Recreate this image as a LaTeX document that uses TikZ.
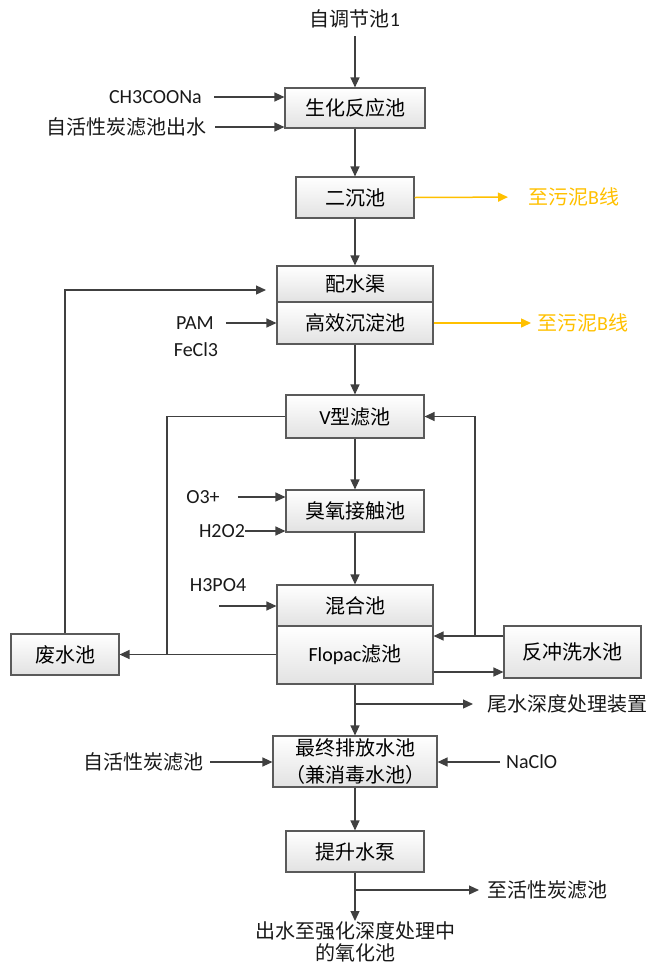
\documentclass[tikz,border=0pt]{standalone}
\usepackage{fontspec}
\setmainfont{Carlito}
\newfontfamily\cjk{Noto Sans CJK SC}
\usetikzlibrary{arrows.meta,shadows}
\definecolor{wwline}{HTML}{404040}
\definecolor{wwedge}{HTML}{5A5A5A}
\definecolor{wwfill}{HTML}{E2E2E2}
\definecolor{wwsludge}{HTML}{FFC000}
\newcommand{\zhfont}{\fontsize{20}{24}\selectfont}
\newcommand{\zh}[1]{{\cjk #1}}
\tikzset{
  unit/.style  ={draw=wwedge, line width=1.1pt, top color=white, bottom color=wwfill,
                 drop shadow={shadow xshift=1.2pt, shadow yshift=-1.2pt,
                              fill=black!20, opacity=.6},
                 inner sep=0pt, font=\zhfont, align=center,
                 minimum width=138, minimum height=42},
  wide/.style  ={unit, minimum width=156},
  tag/.style   ={font=\zhfont, inner sep=0pt, text=black!90, align=center},
  flow/.style  ={-{Triangle[length=10pt,width=9pt]}, draw=wwline, line width=1.2pt},
  pipe/.style  ={draw=wwline, line width=1.2pt},
  sludge/.style={flow, draw=wwsludge, line width=1.5pt},
}

\begin{document}
\begin{tikzpicture}[x=1pt,y=-1pt]
  \useasboundingbox (0,0) rectangle (651,970);

  % main line
  \node[tag] (src) at (355,19) {\zh{自调节池}1};
  \node[unit, minimum width=140, minimum height=40] (bio) at (355,108) {\zh{生化反应池}};
  \node[unit, minimum width=118, minimum height=41] (sec) at (355,197.5) {\zh{二沉池}};
  \node[wide, minimum height=36] (dist) at (355,284) {\zh{配水渠}};
  \node[wide, minimum height=42] (hsed) at (355,323) {\zh{高效沉淀池}};
  \node[unit, minimum height=43] (vfil) at (355,416.5) {V\zh{型滤池}};
  \node[unit] (ozone) at (355,511) {\zh{臭氧接触池}};
  \node[wide, minimum height=41] (mix) at (355,605.5) {\zh{混合池}};
  \node[wide, minimum height=58] (flopac) at (355,655) {Flopac\zh{滤池}};
  \node[unit, minimum width=164, minimum height=51, font=\fontsize{20}{27}\selectfont]
    (final) at (355,761.5) {\zh{最终排放水池}\\\zh{（兼消毒水池）}};
  \node[unit, minimum height=41] (pump) at (355,851.5) {\zh{提升水泵}};

  % side tanks
  \node[unit, minimum width=108, minimum height=41] (waste) at (65,654.5) {\zh{废水池}};
  \node[unit, minimum width=137, minimum height=52] (back) at (572.5,652) {\zh{反冲洗水池}};

  % dosing and outlets
  \node[tag, anchor=east] (ch3) at (202,97) {CH3COONa};
  \node[tag, anchor=east] (actw) at (207,127) {\zh{自活性炭滤池出水}};
  \node[tag, anchor=west, text=wwsludge] (sl1) at (528,197) {\zh{至污泥}B\zh{线}};
  \node[tag] (pam) at (195,323) {PAM};
  \node[tag] (fecl) at (196,350) {FeCl3};
  \node[tag, anchor=west, text=wwsludge] (sl2) at (537,323) {\zh{至污泥}B\zh{线}};
  \node[tag] (o3) at (203,497) {O3+};
  \node[tag] (h2o2) at (222,531) {H2O2};
  \node[tag] (h3po4) at (218,585) {H3PO4};
  \node[tag, anchor=west] (tail) at (487,704) {\zh{尾水深度处理装置}};
  \node[tag, anchor=east] (ac2) at (204,762) {\zh{自活性炭滤池}};
  \node[tag, anchor=west] (naclo) at (506,762) {NaClO};
  \node[tag, anchor=west] (tocarb) at (487,890) {\zh{至活性炭滤池}};
  \node[tag, font=\fontsize{20}{22}\selectfont, anchor=north] (out) at (355,921)
    {\zh{出水至强化深度处理中}\\\zh{的氧化池}};

  \coordinate (retin) at (266,290);
  \coordinate (h3in) at (219,606);
  \coordinate (wj) at (167,654.5);
  \coordinate (bj) at (475,636);
  \coordinate (tb) at (355,704);
  \coordinate (cb) at (355,890);

  \draw[flow, shorten <=8pt] (src) -- (bio);
  \draw[flow, shorten <=12pt] (ch3.east) -- (ch3.east -| bio.west);
  \draw[flow, shorten <=8pt] (actw.east) -- (actw.east -| bio.west);
  \draw[flow] (bio) -- (sec);
  \draw[sludge, shorten >=20pt] (sec.east) -- (sl1.west);
  \draw[flow] (sec) -- (dist);
  \draw[flow, shorten <=12pt] (pam.east) -- (pam.east -| hsed.west);
  \draw[sludge, shorten >=6pt] (hsed.east) -- (sl2.west);
  \draw[flow] (hsed) -- (vfil);
  \draw[flow] (vfil) -- (ozone);
  \draw[flow, shorten <=18pt] (o3.east) -- (o3.east -| ozone.west);
  \draw[flow] (h2o2.east) -- (h2o2.east -| ozone.west);
  \draw[flow] (ozone) -- (mix);
  \draw[flow] (h3in) -- (h3in -| mix.west);

  % backwash and waste water
  \draw[flow] (waste.north) |- (retin);
  \draw[pipe] (vfil.west) -| (wj);
  \draw[flow] (flopac.west |- waste.east) -- (waste.east);
  \draw[pipe] (back.west |- bj) -- (bj);
  \draw[flow] (bj) -- (bj -| flopac.east);
  \draw[flow] (bj) |- (vfil.east);
  \draw[flow] ([yshift=-17pt]flopac.east) -- ([yshift=-17pt]flopac.east -| back.west);

  \draw[flow] (flopac) -- (final);
  \draw[flow, shorten >=14pt] (tb) -- (tail.west);
  \draw[flow, shorten <=6pt] (ac2.east) -- (ac2.east -| final.west);
  \draw[flow, shorten <=6pt] (naclo.west) -- (naclo.west -| final.east);
  \draw[flow] (final) -- (pump);
  \draw[flow] (pump) -- (out);
  \draw[flow, shorten >=8pt] (cb) -- (tocarb.west);

\end{tikzpicture}
\end{document}
